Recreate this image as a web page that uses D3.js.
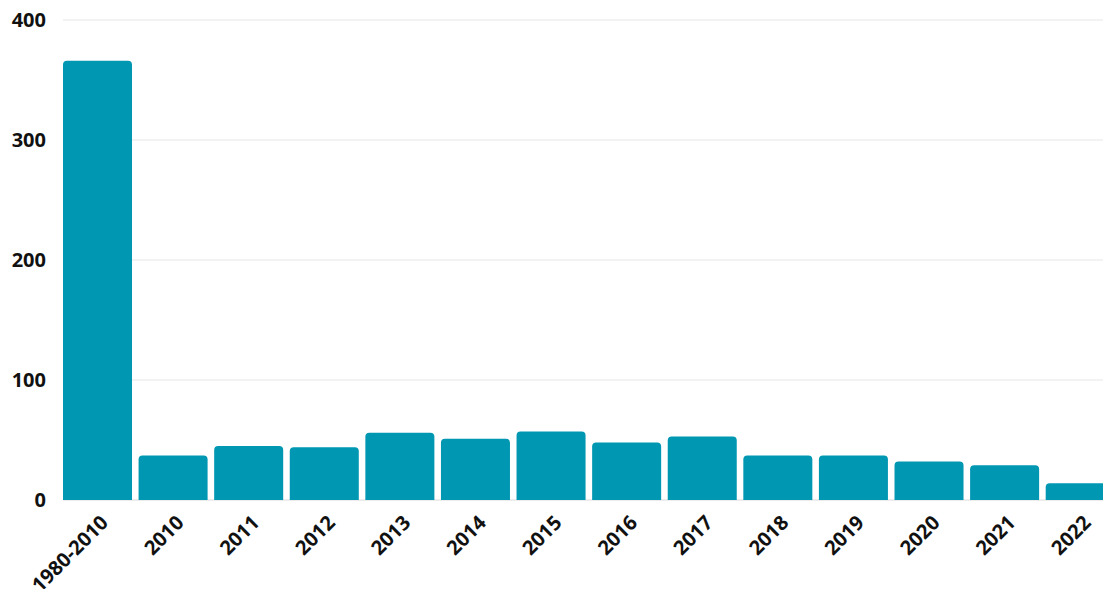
<!DOCTYPE html>
<html><head><meta charset="utf-8">
<script src="https://cdn.jsdelivr.net/npm/d3@7"></script>
<style>
html,body{margin:0;padding:0;background:#fff;overflow:hidden}
text{font-family:"Open Sans",sans-serif;font-weight:700;fill:#111}
</style></head>
<body>
<svg id="c" width="1103" height="589"></svg>
<script>
const categories = ["1980-2010","2010","2011","2012","2013","2014","2015","2016","2017","2018","2019","2020","2021","2022"];
const values = [366, 37, 45, 44, 56, 51, 57, 48, 53, 37, 37, 32, 29, 14];
const yTicks = [0, 100, 200, 300, 400];

const svg = d3.select("#c");
const x = d3.scaleBand().domain(categories).range([59.7, 1118]).paddingInner(0.087).paddingOuter(0.0435);
const y = d3.scaleLinear().domain([0, 400]).range([500, 20]);

// gridlines
svg.append("g").selectAll("line").data(yTicks).join("line")
  .attr("x1", 63).attr("x2", 1103)
  .attr("y1", d => y(d)).attr("y2", d => y(d))
  .attr("stroke", d => d === 0 ? "#d9d9d9" : "#e6e6e6").attr("stroke-width", 1);

// y labels
svg.append("g").selectAll("text").data(yTicks).join("text")
  .attr("x", 46).attr("y", d => y(d)).attr("dy", "0.35em")
  .attr("text-anchor", "end").style("font-size", "20px")
  .text(d => d);

// bars with rounded top corners
function barPath(x0, w, yTop, yBot, r) {
  r = Math.min(r, (yBot - yTop));
  return `M${x0},${yBot}V${yTop + r}Q${x0},${yTop} ${x0 + r},${yTop}H${x0 + w - r}Q${x0 + w},${yTop} ${x0 + w},${yTop + r}V${yBot}Z`;
}
svg.append("g").selectAll("path").data(values).join("path")
  .attr("d", (d, i) => barPath(x(categories[i]), x.bandwidth(), y(d), y(0), 4))
  .attr("fill", "#0097b2");

// x labels
svg.append("g").selectAll("text").data(categories).join("text")
  .attr("transform", d => `translate(${x(d) + x.bandwidth() / 2 + 7},${519}) rotate(-45)`)
  .attr("text-anchor", "end").attr("dy", "0.35em").style("font-size", "20px")
  .text(d => d);
</script>
</body></html>
